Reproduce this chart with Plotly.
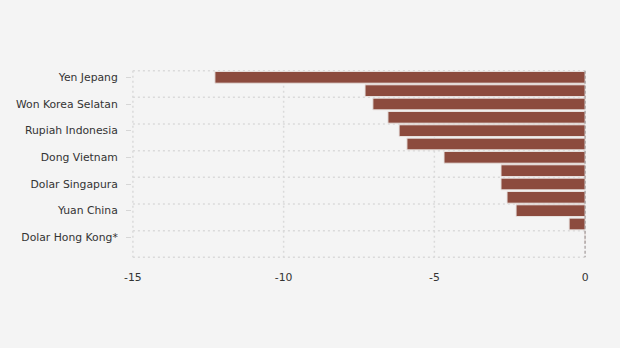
import plotly.graph_objects as go

# 13 currencies, only every other one is labeled on the axis
labels = ["Yen Jepang", "", "Won Korea Selatan", "", "Rupiah Indonesia", "",
          "Dong Vietnam", "", "Dolar Singapura", "", "Yuan China", "",
          "Dolar Hong Kong*"]
values = [-12.28, -7.30, -7.04, -6.54, -6.17, -5.91, -4.68,
          -2.79, -2.79, -2.59, -2.29, -0.53, -0.02]
x_ticks = [-15, -10, -5, 0]

positions = list(range(len(values)))
tick_pos = [p for p, l in zip(positions, labels) if l]
tick_txt = [l for l in labels if l]
boundaries = [p - 0.5 for p in tick_pos] + [tick_pos[-1] + 1.5]
y_range = [tick_pos[-1] + 1.55, -0.55]

fig = go.Figure(go.Bar(
    x=values, y=positions, orientation="h",
    marker=dict(color="#8c4b3e", line=dict(color="#e8e2e0", width=1)),
    width=0.88,
))

bg = "#f4f4f4"
grid = "#dadada"
fig.update_layout(
    width=620, height=348,
    paper_bgcolor=bg, plot_bgcolor=bg,
    margin=dict(l=132, r=34, t=70, b=90),
    font=dict(family="DejaVu Sans", size=10.8, color="#333333"),
    showlegend=False,
    bargap=0.12,
    xaxis=dict(
        range=[-15.03, 0.03], tickvals=x_ticks,
        ticktext=[str(v) for v in x_ticks],
        showgrid=False, zeroline=False, ticks="outside", ticklen=9,
        tickcolor=bg, showline=False,
    ),
    yaxis=dict(
        range=y_range, tickmode="array",
        tickvals=tick_pos, ticktext=tick_txt,
        showgrid=False, zeroline=False,
        ticks="outside", ticklen=5, tickcolor="#d6d6d6",
        ticklabelstandoff=6,
    ),
)
# dotted grid: horizontal lines at category-pair boundaries, vertical at x ticks
y_lo, y_hi = boundaries[0], boundaries[-1]
for b in boundaries:
    fig.add_shape(type="line", xref="x", yref="y", x0=x_ticks[0], x1=x_ticks[-1],
                  y0=b, y1=b, layer="below",
                  line=dict(color=grid, width=1.5, dash="2px,3px"))
for t in x_ticks[:-1]:
    fig.add_shape(type="line", xref="x", yref="y", x0=t, x1=t,
                  y0=y_lo, y1=y_hi, layer="below",
                  line=dict(color=grid, width=1.5, dash="2px,3px"))
# darker dashed reference line at zero, drawn above the bars
fig.add_shape(type="line", xref="x", yref="y", x0=x_ticks[-1], x1=x_ticks[-1],
              y0=y_lo, y1=y_hi, layer="above",
              line=dict(color="rgba(150,140,140,0.7)", width=1.5, dash="3px,2px"))

fig.write_html("out.html")
